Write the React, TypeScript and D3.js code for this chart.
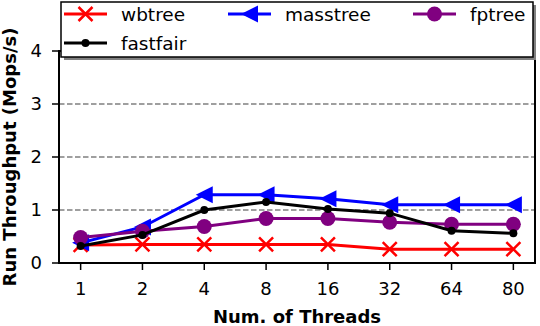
import React, { useRef, useEffect } from "react";
import * as d3 from "d3";

const threads = ["1", "2", "4", "8", "16", "32", "64", "80"];
const wbtree = [0.34, 0.35, 0.35, 0.35, 0.35, 0.26, 0.26, 0.26];
const masstree = [0.38, 0.68, 1.29, 1.29, 1.21, 1.1, 1.1, 1.1];
const fptree = [0.48, 0.6, 0.69, 0.84, 0.84, 0.77, 0.73, 0.73];
const fastfair = [0.32, 0.53, 1.0, 1.15, 1.02, 0.94, 0.61, 0.56];
const yTicks = [0, 1, 2, 3, 4];

const series = [
  { name: "wbtree", values: wbtree, color: "#ff0000", marker: "x" },
  { name: "masstree", values: masstree, color: "#0000ff", marker: "tri" },
  { name: "fptree", values: fptree, color: "#800080", marker: "big" },
  { name: "fastfair", values: fastfair, color: "#000000", marker: "dot" },
];

const FONT = "'DejaVu Sans', sans-serif";

export default function App() {
  const svgRef = useRef<SVGSVGElement>(null);

  useEffect(() => {
    const width = 540;
    const height = 326;
    const svg = d3.select(svgRef.current);
    svg.selectAll("*").remove();
    svg.attr("width", width).attr("height", height);

    const left = 59, right = 535, top = 51, bottom = 263;

    // matplotlib-like 5% margin on categorical x
    const x = d3
      .scaleLinear()
      .domain([-0.35, threads.length - 1 + 0.35])
      .range([left, right]);
    const y = d3.scaleLinear().domain([0, 4]).range([bottom, top]);

    // grid
    svg
      .append("g")
      .selectAll("line")
      .data(yTicks.filter((t) => t > 0))
      .join("line")
      .attr("x1", left)
      .attr("x2", right)
      .attr("y1", (d) => y(d))
      .attr("y2", (d) => y(d))
      .attr("stroke", "#808080")
      .attr("stroke-width", 1.5)
      .attr("stroke-dasharray", "5.5,2.5");

    // series
    const line = d3
      .line<number>()
      .x((_, i) => x(i))
      .y((d) => y(d));

    const drawMarker = (g: any, kind: string, color: string, cx: number, cy: number) => {
      if (kind === "x") {
        const s = 7;
        g.append("path")
          .attr("d", `M${cx - s},${cy - s}L${cx + s},${cy + s}M${cx - s},${cy + s}L${cx + s},${cy - s}`)
          .attr("stroke", color)
          .attr("stroke-width", 2.5)
          .attr("fill", "none");
      } else if (kind === "tri") {
        const s = 8.5;
        g.append("path")
          .attr("d", `M${cx - s},${cy}L${cx + s},${cy - s}L${cx + s},${cy + s}Z`)
          .attr("fill", color);
      } else if (kind === "big") {
        g.append("circle").attr("cx", cx).attr("cy", cy).attr("r", 7.5).attr("fill", color);
      } else {
        g.append("circle").attr("cx", cx).attr("cy", cy).attr("r", 4).attr("fill", color);
      }
    };

    const plot = svg.append("g");
    series.forEach((s) => {
      const g = plot.append("g");
      g.append("path")
        .attr("d", line(s.values))
        .attr("fill", "none")
        .attr("stroke", s.color)
        .attr("stroke-width", 3);
      s.values.forEach((v, i) => drawMarker(g, s.marker, s.color, x(i), y(v)));
    });

    // frame
    svg
      .append("rect")
      .attr("x", left)
      .attr("y", top)
      .attr("width", right - left)
      .attr("height", bottom - top)
      .attr("fill", "none")
      .attr("stroke", "#000")
      .attr("stroke-width", 2);

    // x ticks
    const xt = svg.append("g");
    threads.forEach((t, i) => {
      xt.append("line")
        .attr("x1", x(i)).attr("x2", x(i))
        .attr("y1", bottom).attr("y2", bottom + 7)
        .attr("stroke", "#000").attr("stroke-width", 1.5);
      xt.append("text")
        .attr("x", x(i))
        .attr("y", bottom + 32)
        .attr("text-anchor", "middle")
        .attr("font-family", FONT)
        .attr("font-size", 18)
        .text(t);
    });

    // y ticks
    const yt = svg.append("g");
    yTicks.forEach((t) => {
      yt.append("line")
        .attr("x1", left - 7).attr("x2", left)
        .attr("y1", y(t)).attr("y2", y(t))
        .attr("stroke", "#000").attr("stroke-width", 1.5);
      yt.append("text")
        .attr("x", left - 17)
        .attr("y", y(t))
        .attr("dy", "0.36em")
        .attr("text-anchor", "end")
        .attr("font-family", FONT)
        .attr("font-size", 18)
        .text(t);
    });

    // axis labels
    svg
      .append("text")
      .attr("x", (left + right) / 2)
      .attr("y", 323)
      .attr("text-anchor", "middle")
      .attr("font-family", FONT)
      .attr("font-weight", "bold")
      .attr("font-size", 18)
      .text("Num. of Threads");

    svg
      .append("text")
      .attr("transform", `translate(16,${(top + bottom) / 2}) rotate(-90)`)
      .attr("text-anchor", "middle")
      .attr("font-family", FONT)
      .attr("font-weight", "bold")
      .attr("font-size", 18)
      .text("Run Throughput (Mops/s)");

    // legend
    const lg = svg.append("g");
    const lx = 61, ly = 2, lw = 472, lh = 55;
    lg.append("rect")
      .attr("x", lx + 3).attr("y", ly + 3)
      .attr("width", lw).attr("height", lh)
      .attr("fill", "#808080");
    lg.append("rect")
      .attr("x", lx).attr("y", ly)
      .attr("width", lw).attr("height", lh)
      .attr("fill", "#fff")
      .attr("stroke", "#000")
      .attr("stroke-width", 1.5);
    const colX = [64, 228, 413];
    const rowY = [14, 43];
    series.forEach((s, i) => {
      const cx0 = colX[i % 3];
      const cy0 = rowY[Math.floor(i / 3)];
      lg.append("line")
        .attr("x1", cx0).attr("x2", cx0 + 43)
        .attr("y1", cy0).attr("y2", cy0)
        .attr("stroke", s.color).attr("stroke-width", 3);
      drawMarker(lg, s.marker, s.color, cx0 + 21.5, cy0);
      lg.append("text")
        .attr("x", cx0 + 57)
        .attr("y", cy0)
        .attr("dy", "0.36em")
        .attr("font-family", FONT)
        .attr("font-size", 18.5)
        .text(s.name);
    });
  }, []);

  return <svg ref={svgRef} style={{ display: "block", position: "absolute", left: 0, top: 0 }} />;
}
